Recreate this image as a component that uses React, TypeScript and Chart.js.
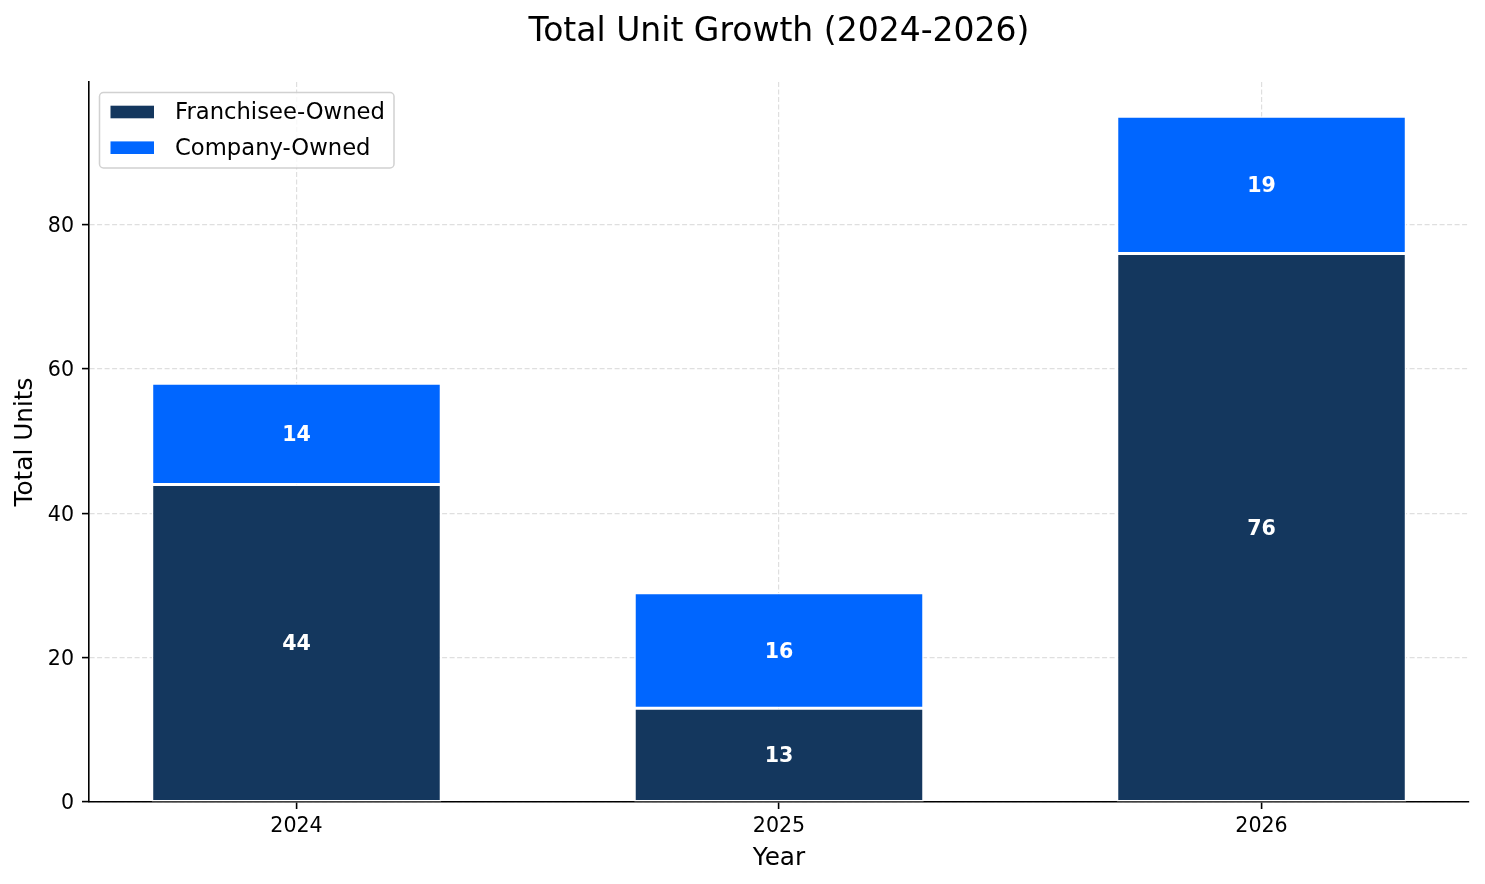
import { useEffect, useRef } from 'react';
import { Chart, registerables } from 'chart.js';

Chart.register(...registerables);

// ---- data ----
const years = ['2024', '2025', '2026'];
const franchiseeOwned = [44, 13, 76];
const companyOwned = [14, 16, 19];
const yTickValues = [0, 20, 40, 60, 80];
const seriesLabels = ['Franchisee-Owned', 'Company-Owned'];
const seriesColors = ['#14375E', '#0066FF'];
const titleText = 'Total Unit Growth (2024-2026)';
const xAxisLabel = 'Year';
const yAxisLabel = 'Total Units';

const FONT = '"DejaVu Sans", sans-serif';
const GRID = 'rgba(176,176,176,0.4)';

const totals = years.map((_, i) => franchiseeOwned[i] + companyOwned[i]);
const yMax = Math.max(...totals) * 1.05;
const barWidth = 0.6;
const xSpan = years.length - 1 + barWidth;
const xMin = -barWidth / 2 - 0.05 * xSpan;
const xMax = years.length - 1 + barWidth / 2 + 0.05 * xSpan;

const overlayPlugin = {
  id: 'overlay',
  afterDatasetsDraw(chart: any) {
    const ctx = chart.ctx;
    ctx.save();
    ctx.font = `bold 20.6px ${FONT}`;
    ctx.fillStyle = '#ffffff';
    ctx.textAlign = 'center';
    ctx.textBaseline = 'middle';
    chart.data.datasets.forEach((ds: any, di: number) => {
      const meta = chart.getDatasetMeta(di);
      meta.data.forEach((bar: any, i: number) => {
        const v = ds.data[i].y;
        const p = bar.getProps(['x', 'y', 'base'], true);
        ctx.fillText(String(v), p.x, (p.y + p.base) / 2 + 2);
      });
    });
    ctx.restore();
  },
  afterDraw(chart: any) {
    const { ctx, chartArea } = chart;
    ctx.save();
    // title
    ctx.font = `33px ${FONT}`;
    ctx.fillStyle = '#000000';
    ctx.textAlign = 'center';
    ctx.textBaseline = 'alphabetic';
    ctx.fillText(titleText, (chartArea.left + chartArea.right) / 2, 41);

    // legend
    const bx = chartArea.left + 10.5;
    const by = chartArea.top + 10.5;
    const bw = 294.5;
    const bh = 75.5;
    const r = 4;
    ctx.beginPath();
    ctx.moveTo(bx + r, by);
    ctx.lineTo(bx + bw - r, by);
    ctx.arcTo(bx + bw, by, bx + bw, by + r, r);
    ctx.lineTo(bx + bw, by + bh - r);
    ctx.arcTo(bx + bw, by + bh, bx + bw - r, by + bh, r);
    ctx.lineTo(bx + r, by + bh);
    ctx.arcTo(bx, by + bh, bx, by + bh - r, r);
    ctx.lineTo(bx, by + r);
    ctx.arcTo(bx, by, bx + r, by, r);
    ctx.closePath();
    ctx.fillStyle = 'rgba(255,255,255,0.8)';
    ctx.fill();
    ctx.strokeStyle = 'rgba(204,204,204,0.9)';
    ctx.lineWidth = 1.5;
    ctx.stroke();

    ctx.font = `22.7px ${FONT}`;
    ctx.textAlign = 'left';
    ctx.textBaseline = 'middle';
    chart.data.datasets.forEach((ds: any, di: number) => {
      const cy = by + 19.5 + di * 35.7;
      ctx.fillStyle = ds.backgroundColor;
      ctx.fillRect(bx + 11, cy - 6.3, 43.5, 12.6);
      ctx.fillStyle = '#000000';
      ctx.fillText(ds.label, bx + 75.5, cy + 1.5);
    });
    ctx.restore();
  },
};

export default function App() {
  const canvasRef = useRef<HTMLCanvasElement | null>(null);

  useEffect(() => {
    const canvas = canvasRef.current;
    if (!canvas) return;
    const seriesValues = [franchiseeOwned, companyOwned];
    const chart = new Chart(canvas, {
      type: 'bar',
      data: {
        datasets: seriesValues.map((vals, si) => ({
          label: seriesLabels[si],
          data: years.map((_, i) => ({ x: i, y: vals[i] })),
          backgroundColor: seriesColors[si],
          borderColor: '#ffffff',
          borderWidth: 1.5,
          borderSkipped: false,
          categoryPercentage: 1,
          barPercentage: barWidth,
        })),
      },
      options: {
        responsive: false,
        animation: false,
        devicePixelRatio: 1,
        layout: { padding: { top: 82, right: 16, left: 0, bottom: 0 } },
        plugins: {
          legend: { display: false },
          title: { display: false },
          tooltip: { enabled: false },
        },
        scales: {
          x: {
            type: 'linear',
            stacked: true,
            min: xMin,
            max: xMax,
            offset: false,
            z: 1,
            afterBuildTicks: (scale: any) => {
              scale.ticks = years.map((_, i) => ({ value: i }));
            },
            afterFit: (scale: any) => {
              scale.height = 82;
            },
            ticks: {
              autoSkip: false,
              maxRotation: 0,
              padding: 5,
              color: '#000000',
              font: { family: FONT, size: 20.6 },
              callback: (v: any) => years[Math.round(Number(v))] ?? '',
            },
            grid: {
              offset: false,
              color: GRID,
              lineWidth: 1.2,
              drawTicks: true,
              tickLength: 7,
              tickColor: '#000000',
              tickWidth: 1.6,
              tickBorderDash: [],
            },
            border: { display: true, color: '#000000', width: 1.6, dash: [5, 2.5] },
            title: {
              display: true,
              text: xAxisLabel,
              color: '#000000',
              font: { family: FONT, size: 24.75 },
              padding: { top: 0, bottom: 11 },
            },
          },
          y: {
            type: 'linear',
            stacked: true,
            min: 0,
            max: yMax,
            z: 1,
            afterBuildTicks: (scale: any) => {
              scale.ticks = yTickValues.map((v) => ({ value: v }));
            },
            afterFit: (scale: any) => {
              scale.width = 89;
            },
            ticks: {
              padding: 8,
              labelOffset: 2,
              color: '#000000',
              font: { family: FONT, size: 20.6 },
              callback: (v: any) => String(v),
            },
            grid: {
              color: GRID,
              lineWidth: 1.2,
              drawTicks: true,
              tickLength: 7,
              tickColor: '#000000',
              tickWidth: 1.6,
              tickBorderDash: [],
            },
            border: { display: true, color: '#000000', width: 1.6, dash: [5, 2.5] },
            title: {
              display: true,
              text: yAxisLabel,
              color: '#000000',
              font: { family: FONT, size: 24.75 },
              padding: { top: 11, bottom: 0 },
            },
          },
        },
      },
      plugins: [overlayPlugin],
    } as any);
    return () => chart.destroy();
  }, []);

  return (
    <div style={{ position: 'fixed', left: 0, top: 0, width: 1485, height: 884, background: '#ffffff' }}>
      <canvas ref={canvasRef} width={1485} height={884} style={{ display: 'block', width: 1485, height: 884 }} />
    </div>
  );
}
